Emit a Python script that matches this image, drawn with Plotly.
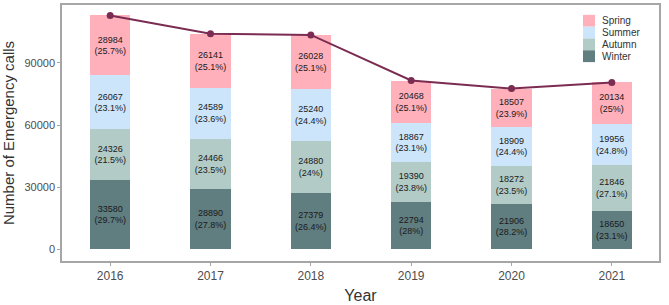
import plotly.graph_objects as go

years = ["2016", "2017", "2018", "2019", "2020", "2021"]
winter = [33580, 28890, 27379, 22794, 21906, 18650]
autumn = [24326, 24466, 24880, 19390, 18272, 21846]
summer = [26067, 24589, 25240, 18867, 18909, 19956]
spring = [28984, 26141, 26028, 20468, 18507, 20134]
winter_pct = ["29.7%", "27.8%", "26.4%", "28%", "28.2%", "23.1%"]
autumn_pct = ["21.5%", "23.5%", "24%", "23.8%", "23.5%", "27.1%"]
summer_pct = ["23.1%", "23.6%", "24.4%", "23.1%", "24.4%", "24.8%"]
spring_pct = ["25.7%", "25.1%", "25.1%", "25.1%", "23.9%", "25%"]
y_ticks = [0, 30000, 60000, 90000]

totals = [w + a + su + sp for w, a, su, sp in zip(winter, autumn, summer, spring)]

series = [
    ("Winter", winter, winter_pct, "#607d80"),
    ("Autumn", autumn, autumn_pct, "#b2cbc7"),
    ("Summer", summer, summer_pct, "#cde5fb"),
    ("Spring", spring, spring_pct, "#ffb0ba"),
]

W, H = 669, 305
ML, MR, MT, MB = 62, 10, 3, 42
PW, PH = W - ML - MR, H - MT - MB

fig = go.Figure()
for name, vals, pcts, color in series:
    fig.add_trace(go.Bar(
        x=years, y=vals, name=name, showlegend=False,
        marker=dict(color=color, line=dict(width=0)),
        text=[f"{v}<br>({p})" for v, p in zip(vals, pcts)],
        textposition="inside", insidetextanchor="middle",
        textfont=dict(size=9, color="#1a1a1a", family="Liberation Sans"),
        width=0.4,
    ))

fig.add_trace(go.Scatter(
    x=years, y=totals, mode="lines+markers", showlegend=False,
    line=dict(color="#7b2c52", width=2),
    marker=dict(color="#7b2c52", size=7),
))

# Compact legend (Spring on top)
shapes, annots = [], []
lx0 = 583
ly0 = 13
for i, (name, vals, pcts, color) in enumerate(reversed(series)):
    top = ly0 + 12 * i
    bot = top + 12
    shapes.append(dict(
        type="rect", xref="paper", yref="paper",
        x0=(lx0 - ML) / PW, x1=(lx0 + 12 - ML) / PW,
        y0=1 - (bot - MT) / PH, y1=1 - (top - MT) / PH,
        fillcolor=color, line=dict(width=0), layer="above",
    ))
    annots.append(dict(
        xref="paper", yref="paper", x=(lx0 + 17 - ML) / PW,
        y=1 - ((top + bot) / 2 - MT) / PH, text=name, showarrow=False,
        xanchor="left", yanchor="middle",
        font=dict(size=10, color="#333333", family="Liberation Sans"),
    ))

fig.update_layout(
    barmode="stack",
    width=W, height=H,
    margin=dict(l=ML, r=MR, t=MT, b=MB),
    paper_bgcolor="white", plot_bgcolor="white",
    font=dict(family="Liberation Sans", color="#4d4d4d"),
    uniformtext=dict(minsize=9, mode="show"),
    shapes=shapes, annotations=annots,
    xaxis=dict(
        range=[-0.48, 5.47], showline=True, mirror=True,
        linecolor="#a6a6a6", linewidth=1.5, ticks="outside", ticklen=3,
        tickcolor="#a6a6a6", tickfont=dict(size=12, color="#4d4d4d"),
        title=dict(text="Year", font=dict(size=16, color="#333333"), standoff=8),
        showgrid=False,
    ),
    yaxis=dict(
        range=[-5700, 118000], showline=True, mirror=True,
        linecolor="#a6a6a6", linewidth=1.5, ticks="outside", ticklen=3,
        tickcolor="#a6a6a6", tickvals=y_ticks, tickformat="d",
        tickfont=dict(size=11, color="#4d4d4d"),
        title=dict(text="Number of Emergency calls", font=dict(size=15, color="#333333"), standoff=6),
        showgrid=False, zeroline=False,
    ),
)

fig.write_html("out.html")
